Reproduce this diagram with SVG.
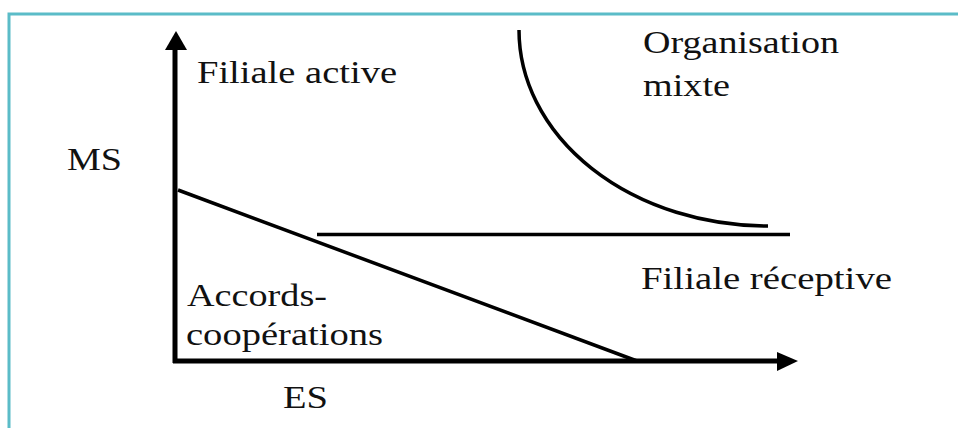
<svg xmlns="http://www.w3.org/2000/svg" width="958" height="428" viewBox="0 0 958 428">
<style>
text{font-family:'Liberation Serif',Tinos,'Times New Roman',Times,serif;font-size:32px;fill:#111}
.ln{fill:none;stroke:#000;stroke-width:3.5}
.ax{fill:none;stroke:#000;stroke-width:5}
</style>
<rect x="0" y="0" width="958" height="428" fill="#fff"/>
<path d="M9,432 V14 H962" fill="none" stroke="#5bbcc8" stroke-width="3"/>
<g id="connectors">
<line class="ax" x1="175" y1="363" x2="175" y2="48"/>
<polygon points="176,31 165,50 187,50"/>
<line class="ax" x1="173" y1="361" x2="780" y2="361"/>
<polygon points="798,361 777,352 777,371"/>
<line class="ln" x1="178" y1="190" x2="637" y2="361"/>
<line class="ln" x1="317" y1="234.5" x2="790" y2="234.5"/>
<path class="ln" d="M519,30 A249,196 0 0 0 768,226"/>
</g>
<g id="filiale-active"><text font-family="Liberation Serif, serif" x="197" y="83" textLength="200" lengthAdjust="spacingAndGlyphs">Filiale active</text></g>
<g id="organisation-mixte">
<text font-family="Liberation Serif, serif" x="643" y="53" textLength="196" lengthAdjust="spacingAndGlyphs">Organisation</text>
<text font-family="Liberation Serif, serif" x="643" y="96" textLength="87" lengthAdjust="spacingAndGlyphs">mixte</text>
</g>
<g id="ms"><text font-family="Liberation Serif, serif" x="67" y="170" textLength="55" lengthAdjust="spacingAndGlyphs">MS</text></g>
<g id="filiale-receptive"><text font-family="Liberation Serif, serif" x="641" y="289" textLength="251" lengthAdjust="spacingAndGlyphs">Filiale réceptive</text></g>
<g id="accords">
<text font-family="Liberation Serif, serif" x="187" y="306" textLength="140" lengthAdjust="spacingAndGlyphs">Accords-</text>
<text font-family="Liberation Serif, serif" x="186" y="345" textLength="197" lengthAdjust="spacingAndGlyphs">coopérations</text>
</g>
<g id="es"><text font-family="Liberation Serif, serif" x="283" y="408" textLength="45" lengthAdjust="spacingAndGlyphs">ES</text></g>
</svg>
